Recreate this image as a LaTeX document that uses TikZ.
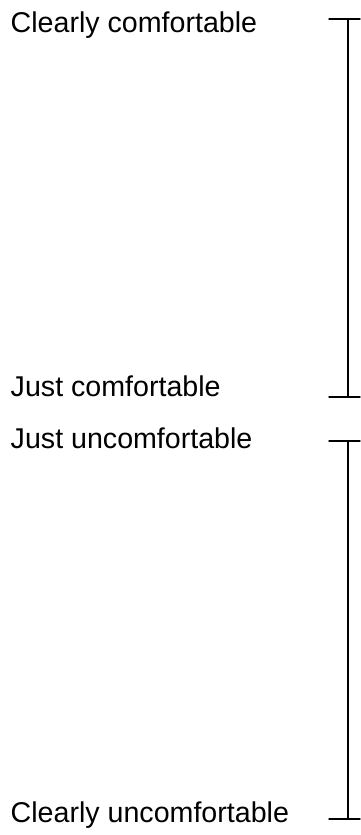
\documentclass[tikz,border=0pt]{standalone}
\usepackage{fontspec}
\setmainfont{Liberation Sans}
\usetikzlibrary{calc}
\usepackage{tkz-euclide}
\definecolor{LineClr}{rgb}{0,0,0}

\begin{document}
\begin{tikzpicture}[every node/.style={inner sep=0pt,anchor=base west,font=\fontsize{40.7}{48}\selectfont}]
\tkzSetUpLine[line width=2pt,color=LineClr]
\useasboundingbox (0,0) rectangle (18,41.75);


\tkzDefPoint(16.45,40.8){CCl}
\tkzDefPoint(18,40.8){CCr}
\tkzDefPoint(17.4,40.8){CCv}
\tkzDefPoint(16.45,21.9){JCl}
\tkzDefPoint(18,21.9){JCr}
\tkzDefPoint(17.4,21.9){JCv}

\tkzDefPoint(16.45,19.7){JUl}
\tkzDefPoint(18,19.7){JUr}
\tkzDefPoint(17.4,19.7){JUv}
\tkzDefPoint(16.45,0.8){CUl}
\tkzDefPoint(18,0.8){CUr}
\tkzDefPoint(17.4,0.8){CUv}


\tkzDrawSegments(CCl,CCr CCv,JCv JCl,JCr)
\tkzDrawSegments(JUl,JUr JUv,CUv CUl,CUr)


\node (ClearComf) at (0.53,40.1) {Clearly comfortable};
\node (JustComf) at (0.53,21.9) {Just comfortable};
\node (JustUncomf) at (0.53,19.3) {Just uncomfortable};
\node (ClearUncomf) at (0.53,0.6) {Clearly uncomfortable};

\end{tikzpicture}
\end{document}
